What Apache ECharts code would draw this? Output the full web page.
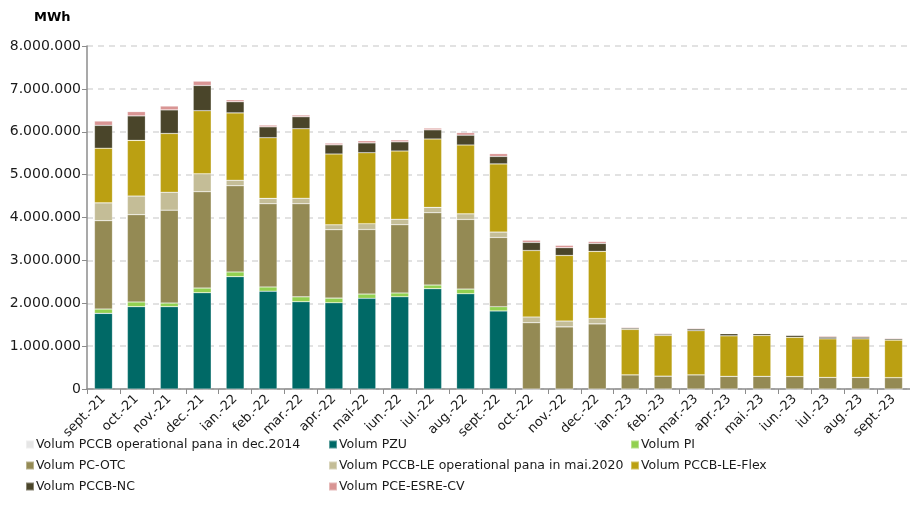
<!DOCTYPE html>
<html>
<head>
<meta charset="utf-8">
<script src="https://cdn.jsdelivr.net/npm/echarts@6/dist/echarts.min.js"></script>
<style>
  html, body { margin: 0; padding: 0; background: #fff; }
  #chart { width: 910px; height: 506px; }
</style>
</head>
<body>
<div id="chart"></div>
<script>
// luni
const categories = ['sept.-21', 'oct.-21', 'nov.-21', 'dec.-21', 'ian.-22', 'feb.-22', 'mar.-22', 'apr.-22',
  'mai-22', 'iun.-22', 'iul.-22', 'aug.-22', 'sept.-22', 'oct.-22', 'nov.-22', 'dec.-22', 'ian.-23',
  'feb.-23', 'mar.-23', 'apr.-23', 'mai.-23', 'iun.-23', 'iul.-23', 'aug.-23', 'sept.-23']

// volume (MWh)
const pccbDec2014 = [0, 0, 0, 0, 0, 0, 0, 0, 0, 0, 0, 0, 0, 0, 0, 0, 0, 0, 0, 0, 0, 0, 0, 0, 0]
const pzu = [1765000, 1920000, 1920000, 2245000, 2620000, 2280000, 2035000, 2010000, 2115000, 2150000, 2340000, 2220000, 1820000,
  0, 0, 0, 0, 0, 0, 0, 0, 0, 0, 0, 0]
const pi = [100000, 110000, 85000, 110000, 110000, 100000, 115000, 110000, 100000, 90000, 85000, 110000, 100000,
  0, 0, 0, 0, 0, 0, 0, 0, 0, 0, 0, 0]
const pcOtc = [2060000, 2035000, 2165000, 2245000, 2010000, 1940000, 2170000, 1595000, 1505000, 1590000, 1685000, 1625000, 1615000,
  1545000, 1450000, 1520000, 330000, 300000, 330000, 295000, 295000, 290000, 270000, 270000, 265000]
const pccbLeMai2020 = [415000, 435000, 420000, 420000, 130000, 125000, 130000, 115000, 135000, 130000, 125000, 130000, 125000,
  135000, 135000, 125000, 0, 0, 0, 0, 0, 0, 0, 0, 0]
const pccbLeFlex = [1275000, 1300000, 1370000, 1470000, 1570000, 1415000, 1620000, 1650000, 1655000, 1590000, 1595000, 1605000, 1590000,
  1550000, 1530000, 1565000, 1060000, 950000, 1030000, 945000, 955000, 915000, 900000, 900000, 875000]
const pccbNc = [535000, 570000, 550000, 590000, 260000, 255000, 280000, 215000, 230000, 215000, 215000, 230000, 175000,
  190000, 180000, 185000, 30000, 30000, 40000, 50000, 40000, 45000, 40000, 40000, 30000]
const pceEsreCv = [100000, 100000, 90000, 100000, 45000, 40000, 40000, 40000, 50000, 45000, 40000, 60000, 65000,
  50000, 55000, 45000, 20000, 20000, 20000, 10000, 15000, 15000, 25000, 25000, 20000]

const yTicks = [0, 1000000, 2000000, 3000000, 4000000, 5000000, 6000000, 7000000, 8000000]

const fmt = (v) => String(v).replace(/\B(?=(\d{3})+(?!\d))/g, '.')

const chart = echarts.init(document.getElementById('chart'))

const seriesDefs = [
  { name: 'Volum PCCB operational pana in dec.2014', data: pccbDec2014, color: '#E6E6E6' },
  { name: 'Volum PZU', data: pzu, color: '#006966' },
  { name: 'Volum PI', data: pi, color: '#92D050' },
  { name: 'Volum PC-OTC', data: pcOtc, color: '#948A54' },
  { name: 'Volum PCCB-LE operational pana in mai.2020', data: pccbLeMai2020, color: '#C4BD97' },
  { name: 'Volum PCCB-LE-Flex', data: pccbLeFlex, color: '#BBA012' },
  { name: 'Volum PCCB-NC', data: pccbNc, color: '#4A452A' },
  { name: 'Volum PCE-ESRE-CV', data: pceEsreCv, color: '#D99594' }
]

// legenda pe 3 coloane
const legendBase = {
  orient: 'vertical',
  top: 433,
  itemWidth: 8,
  itemHeight: 8,
  itemGap: 8,
  icon: 'rect',
  textStyle: { fontFamily: 'DejaVu Sans', fontSize: 12.5, color: '#1a1a1a', padding: [0, 0, 0, -3] }
}

const option = {
  animation: false,
  backgroundColor: '#fff',
  title: {
    text: 'MWh',
    left: 29,
    top: 6,
    textStyle: { fontFamily: 'DejaVu Sans', fontSize: 13, fontWeight: 'bold', color: '#000' }
  },
  legend: [
    Object.assign({}, legendBase, { left: 20, data: [seriesDefs[0].name, seriesDefs[3].name, seriesDefs[6].name] }),
    Object.assign({}, legendBase, { left: 323, data: [seriesDefs[1].name, seriesDefs[4].name, seriesDefs[7].name] }),
    Object.assign({}, legendBase, { left: 625, data: [seriesDefs[2].name, seriesDefs[5].name] })
  ],
  grid: {
    left: 87,
    top: 46,
    width: 833,
    height: 343
  },
  xAxis: {
    type: 'category',
    data: categories,
    axisLine: { lineStyle: { color: '#8c8c8c', width: 1.5 } },
    axisTick: { show: true, length: 5, lineStyle: { color: '#8c8c8c' } },
    axisLabel: {
      interval: 0,
      rotate: 45,
      margin: 8,
      fontFamily: 'DejaVu Sans',
      fontSize: 13,
      color: '#1a1a1a'
    }
  },
  yAxis: {
    type: 'value',
    min: yTicks[0],
    max: yTicks[yTicks.length - 1],
    interval: yTicks[1] - yTicks[0],
    axisLine: { show: true, lineStyle: { color: '#8c8c8c', width: 1.5 } },
    axisTick: { show: true, length: 5, lineStyle: { color: '#8c8c8c' } },
    axisLabel: {
      margin: 6,
      fontFamily: 'DejaVu Sans',
      fontSize: 14,
      color: '#1a1a1a',
      formatter: fmt
    },
    splitLine: { lineStyle: { color: '#d9d9d9', type: [6, 5], width: 1.5 } }
  },
  series: seriesDefs.map(s => ({
    name: s.name,
    type: 'bar',
    stack: 'total',
    barWidth: 18,
    data: s.data,
    itemStyle: {
      color: s.color,
      borderColor: 'rgba(255,255,255,0.35)',
      borderWidth: 0.6
    }
  }))
}

chart.setOption(option)
</script>
</body>
</html>
